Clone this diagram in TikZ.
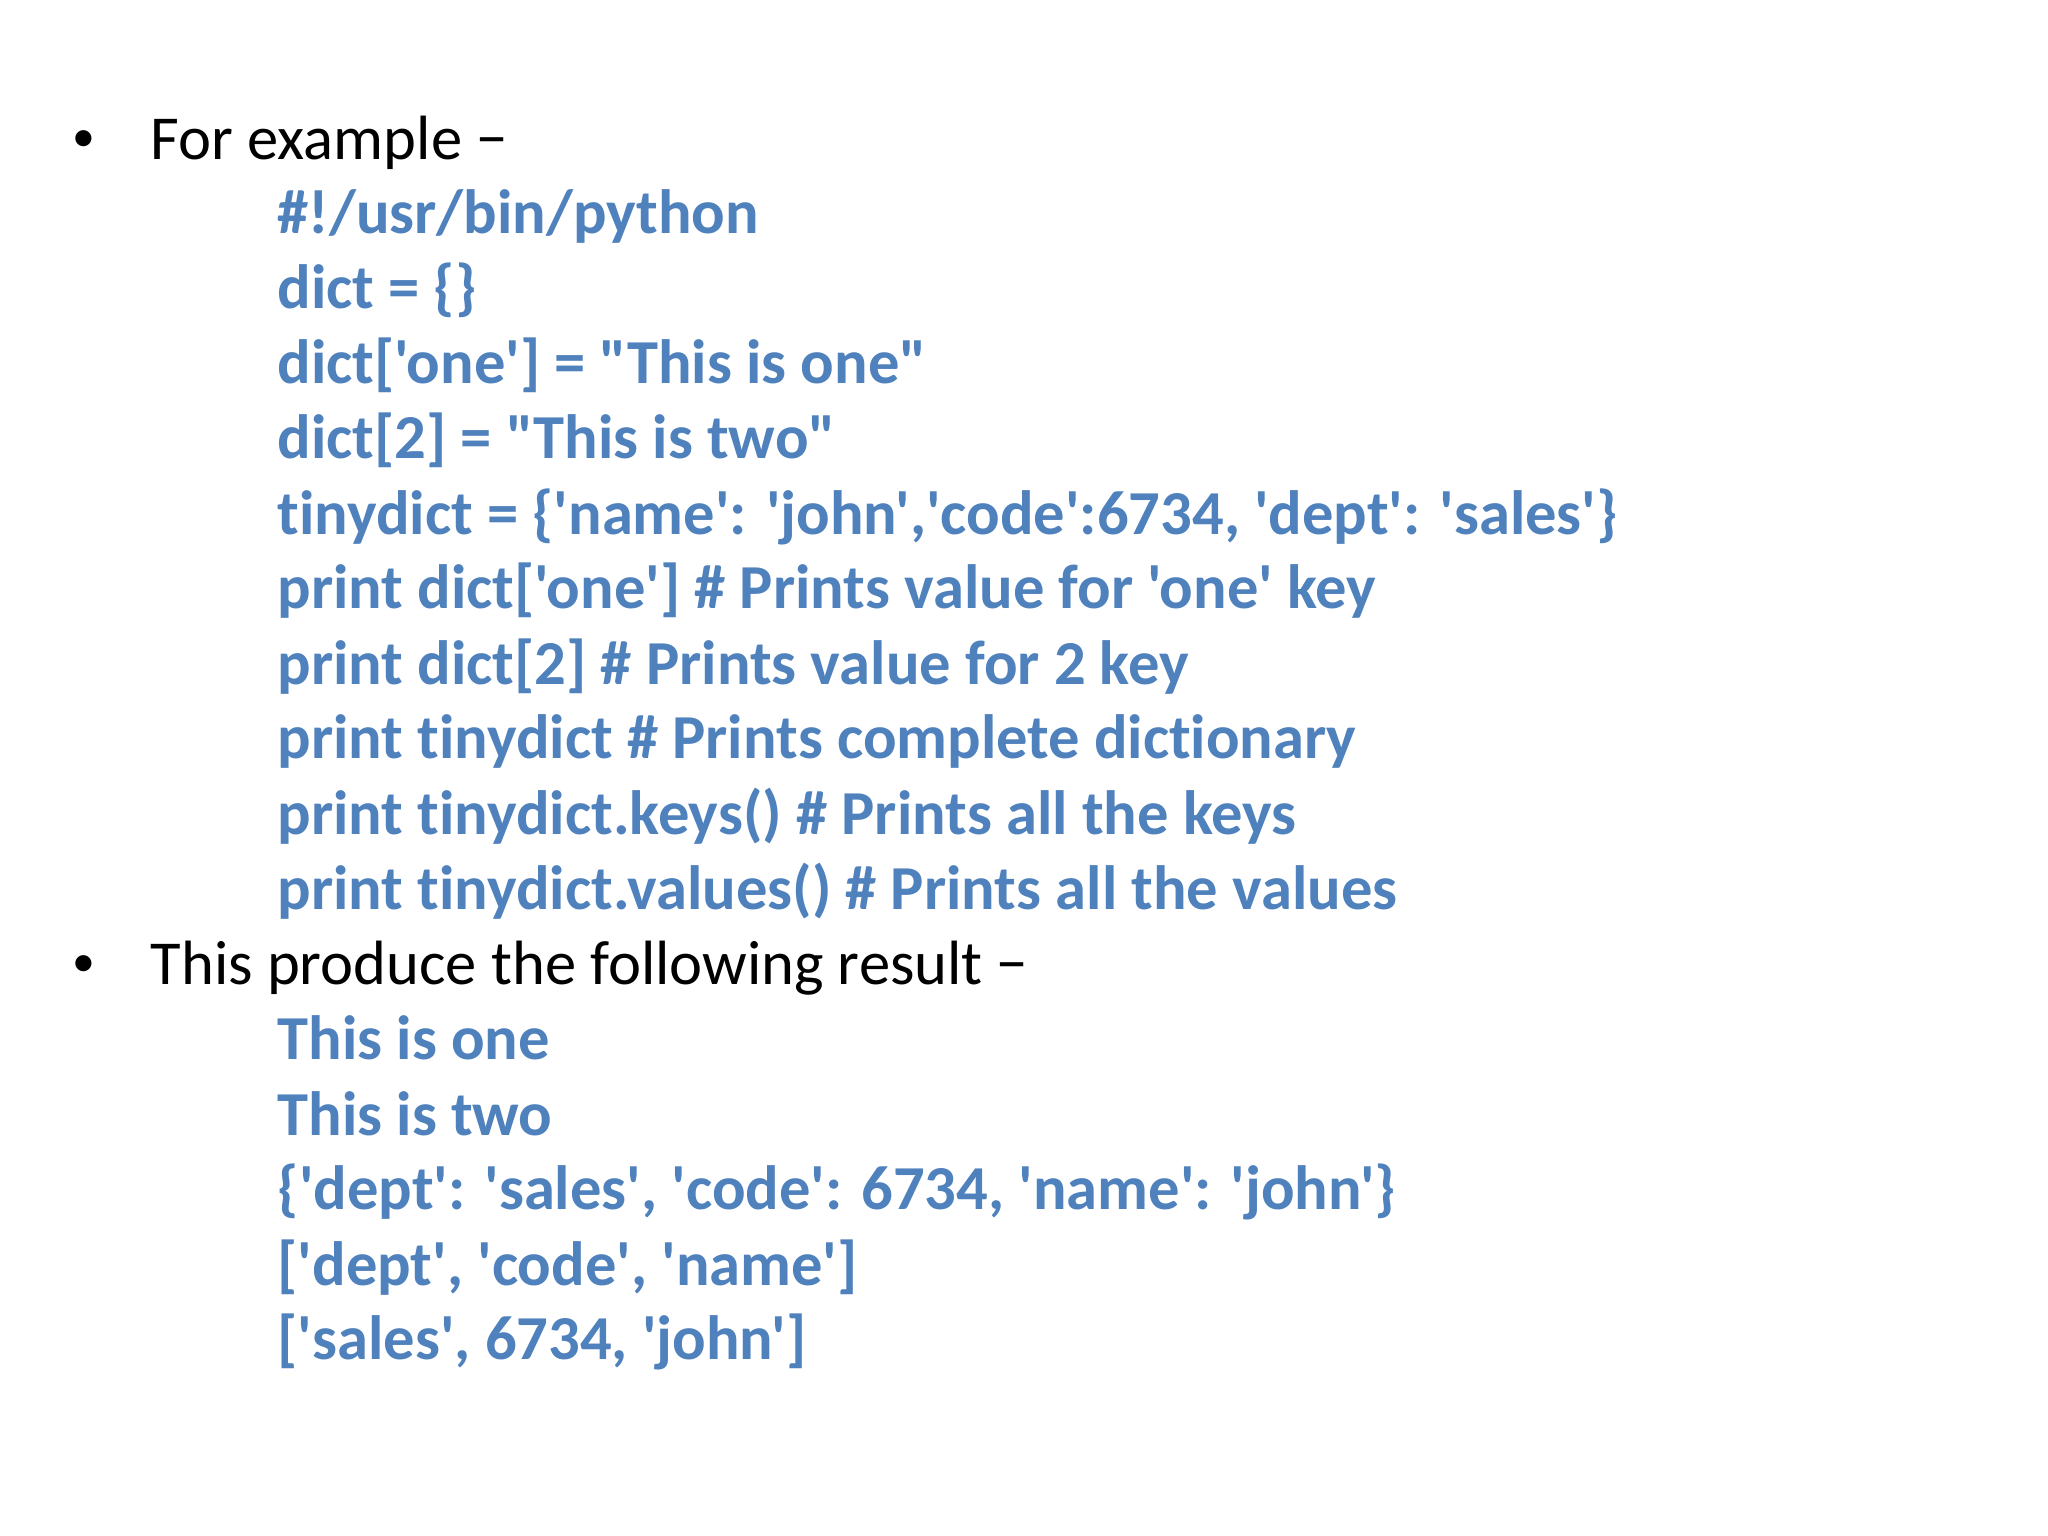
\documentclass[tikz,border=0pt]{standalone}
\usepackage{fontspec}
\newfontfamily\slidefont{Carlito}[Ligatures=NoCommon]
\usepackage{tikz}
\definecolor{codeblue}{HTML}{4F81BD}

\begin{document}
\begin{tikzpicture}[x=0.01306cm,y=-0.01306cm,
		txt/.style={anchor=base west,inner sep=0pt,font=\slidefont\fontsize{17.8}{21}\selectfont},
		dot/.style={anchor=base west,inner sep=0pt,font=\slidefont\fontsize{13}{15}\selectfont},
		code/.style={txt,text=codeblue,font=\slidefont\bfseries\fontsize{17.8}{21}\selectfont}]
		\useasboundingbox (0,0) rectangle (1568,1176);
		% first bullet
		\node (b1) [dot] at (55,116) {•};
		\node (head1) [txt] at (115,122) {For example −};
		\node (c1) [code] at (212,179) {\#!/usr/bin/python};
		\node (c2) [code] at (212,236) {dict = \{\}};
		\node (c3) [code] at (212,294) {dict['one'] = "This is one"};
		\node (c4) [code] at (212,351) {dict[2] = "This is two"};
		\node (c5) [code] at (212,409) {tinydict = \{'name': 'john','code':6734, 'dept': 'sales'\}};
		\node (c6) [code] at (212,466) {print dict['one'] \# Prints value for 'one' key};
		\node (c7) [code] at (212,524) {print dict[2] \# Prints value for 2 key};
		\node (c8) [code] at (212,581) {print tinydict \# Prints complete dictionary};
		\node (c9) [code] at (212,639) {print tinydict.keys() \# Prints all the keys};
		\node (c10) [code] at (212,696) {print tinydict.values() \# Prints all the values};
		% second bullet
		\node (b2) [dot] at (55,748) {•};
		\node (head2) [txt] at (115,754) {This produce the following result −};
		\node (r1) [code] at (212,811) {This is one};
		\node (r2) [code] at (212,869) {This is two};
		\node (r3) [code] at (212,926) {\{'dept': 'sales', 'code': 6734, 'name': 'john'\}};
		\node (r4) [code] at (212,984) {['dept', 'code', 'name']};
		\node (r5) [code] at (212,1041) {['sales', 6734, 'john']};
	\end{tikzpicture}
\end{document}
